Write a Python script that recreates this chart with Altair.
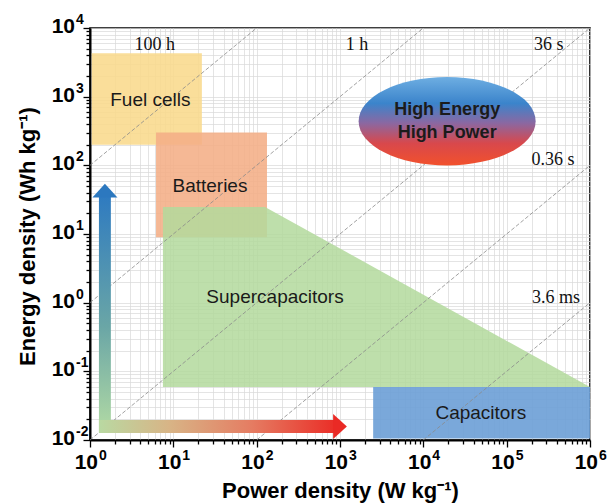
import altair as alt
import pandas as pd

# ---------------- data ----------------
# rectangular regions (power density W/kg, energy density Wh/kg)
rect_names = ["Fuel cells", "Batteries", "Capacitors"]
rect_p0 = [1.05, 6.2, 2500]
rect_p1 = [22, 133, 1e6]
rect_e0 = [200, 9.0, 0.0105]
rect_e1 = [4300, 300, 0.059]
rect_colors = ["#f9d98c", "#f4ae86", "#6c9fd6"]

# supercapacitor polygon (top edge), bottom at sc_bottom
sc_p = [7.5, 126, 1e6]
sc_e = [24.8, 24.8, 0.059]
sc_bottom = 0.059

# region labels
lab_names = ["Fuel cells", "Batteries", "Supercapacitors", "Capacitors"]
lab_p = [5.3, 27.5, 166, 49000]
lab_e = [890, 50, 1.2, 0.025]

# constant-time lines: start and end points
t_names = ["100 h", "1 h", "36 s", "0.36 s", "3.6 ms"]
t_p0 = [1, 1, 1, 100, 1e4]
t_e0 = [100, 1, 0.01, 0.01, 0.01]
t_p1 = [100, 1e4, 1e6, 1e6, 1e6]
t_e1 = [1e4, 1e4, 1e4, 100, 1]
# time label positions
t_lab_p = [6.0, 1600, 3.2e5, 3.6e5, 3.9e5]
t_lab_e = [5600, 5600, 5600, 120, 1.17]

# ellipse
ell_p = [19300]
ell_e = [440]
ell_lines = ["High Energy", "High Power"]

# arrows
v_shaft = {"p0": 1.28, "p1": 1.78, "e0": 0.0126, "e1": 35}
v_head = {"p": 1.51, "e": 43}
h_shaft = {"p0": 1.28, "p1": 850, "e0": 0.0126, "e1": 0.0195}
h_head = {"p": 1000, "e": 0.0157}

# axis ticks / labels (mantissa "10" + exponent)
x_decades = [1, 10, 100, 1000, 1e4, 1e5, 1e6]
x_exps = ["0", "1", "2", "3", "4", "5", "6"]
y_decades = [0.01, 0.1, 1, 10, 100, 1000, 1e4]
y_exps = ["-2", "-1", "0", "1", "2", "3", "4"]

# ---------------- build ----------------
def minor_ticks(decades):
    vals = []
    for d in decades[:-1]:
        vals += [d * k for k in range(1, 10)]
    vals.append(decades[-1])
    return vals

x_vals = minor_ticks(x_decades)
y_vals = minor_ticks(y_decades)

is_major = "abs(log(datum.value)/LN10 - round(log(datum.value)/LN10)) < 1e-6"

FONT = "Liberation Sans"
SERIF = "Liberation Serif"

xscale = alt.Scale(type="log", domain=[1, 1e6], nice=False)
yscale = alt.Scale(type="log", domain=[0.01, 1e4], nice=False)

common_axis = dict(
    grid=True, gridColor="#d8d8d8", gridWidth=0.7,
    domainColor="black", domainWidth=2, tickColor="black", tickWidth=1.3,
    tickSize={"condition": {"test": is_major, "value": 7}, "value": 4},
    labels=False,
    titleFont=FONT, titleFontWeight="bold", titleFontSize=22, titleColor="black",
    titleAlign="center", titleBaseline="middle",
)
xaxis = alt.Axis(values=x_vals, title="Power density   (W kg⁻¹)",
                 titleX=250, titleY=50, **common_axis)
yaxis = alt.Axis(values=y_vals, title="Energy density   (Wh kg⁻¹)",
                 titleX=-63, titleY=208, titleAngle=270, **common_axis)

rect_df = pd.DataFrame({"name": rect_names, "p0": rect_p0, "p1": rect_p1,
                        "e0": rect_e0, "e1": rect_e1, "color": rect_colors})
sc_df = pd.DataFrame({"p": sc_p, "e": sc_e, "b": [sc_bottom] * len(sc_p)})
lab_df = pd.DataFrame({"name": lab_names, "p": lab_p, "e": lab_e})

line_rows = []
for n, a, b, c, d in zip(t_names, t_p0, t_e0, t_p1, t_e1):
    line_rows.append({"name": n, "p": a, "e": b, "o": 0})
    line_rows.append({"name": n, "p": c, "e": d, "o": 1})
line_df = pd.DataFrame(line_rows)
tlab_df = pd.DataFrame({"name": t_names, "p": t_lab_p, "e": t_lab_e})

X = lambda f: alt.X(f, scale=xscale)
Y = lambda f: alt.Y(f, scale=yscale)

# axes/grid carrier
axes = alt.Chart(lab_df).mark_point(opacity=0).encode(
    x=alt.X("p:Q", scale=xscale, axis=xaxis), y=alt.Y("e:Q", scale=yscale, axis=yaxis))

lines = alt.Chart(line_df).mark_line(color="#8a8a8a", strokeWidth=0.8,
                                     strokeDash=[4, 2], clip=True).encode(
    x=X("p:Q"), y=Y("e:Q"), detail="name:N", order="o:Q")

fuel_bat = alt.Chart(rect_df[rect_df.name != "Capacitors"]).mark_rect(opacity=0.88).encode(
    x=X("p0:Q"), x2="p1:Q", y=Y("e0:Q"), y2="e1:Q",
    color=alt.Color("color:N", scale=None))

sc = alt.Chart(sc_df).mark_area(color="#b3d99c", opacity=0.85, interpolate="linear").encode(
    x=X("p:Q"), y=Y("e:Q"), y2="b:Q")

cap = alt.Chart(rect_df[rect_df.name == "Capacitors"]).mark_rect(opacity=0.9).encode(
    x=X("p0:Q"), x2="p1:Q", y=Y("e0:Q"), y2="e1:Q",
    color=alt.Color("color:N", scale=None))

region_text = alt.Chart(lab_df).mark_text(font=FONT, fontSize=19, color="#1a1a1a").encode(
    x=X("p:Q"), y=Y("e:Q"), text="name:N")

time_text = alt.Chart(tlab_df).mark_text(font=SERIF, fontSize=18, color="#111").encode(
    x=X("p:Q"), y=Y("e:Q"), text="name:N")

ell_grad = alt.Gradient(
    gradient="linear", x1=0, x2=0, y1=0, y2=1,
    stops=[alt.GradientStop(color="#6eaee2", offset=0),
           alt.GradientStop(color="#3b84cb", offset=0.3),
           alt.GradientStop(color="#8a68a2", offset=0.52),
           alt.GradientStop(color="#d8484c", offset=0.75),
           alt.GradientStop(color="#f2512c", offset=1)])
ell_df = pd.DataFrame({"p": ell_p, "e": ell_e})
ellipse = alt.Chart(ell_df).mark_point(
    shape="M-1,0A1,0.5,0,1,1,1,0A1,0.5,0,1,1,-1,0Z", size=177 * 177,
    filled=True, fill=ell_grad, opacity=1, strokeWidth=0).encode(
    x=X("p:Q"), y=Y("e:Q"))
ell_text = alt.Chart(ell_df).mark_text(
    font=FONT, fontSize=18, fontWeight="bold", color="#1b1b1b",
    lineHeight=23, baseline="middle", dy=-11).encode(
    x=X("p:Q"), y=Y("e:Q"), text=alt.value(ell_lines))

v_grad = alt.Gradient(
    gradient="linear", x1=0, x2=0, y1=1, y2=0,
    stops=[alt.GradientStop(color="#b3dba4", offset=0),
           alt.GradientStop(color="#6aa6a6", offset=0.45),
           alt.GradientStop(color="#2f7bc0", offset=1)])
h_grad = alt.Gradient(
    gradient="linear", x1=0, x2=1, y1=0, y2=0,
    stops=[alt.GradientStop(color="#b9d9a2", offset=0),
           alt.GradientStop(color="#d8b486", offset=0.3),
           alt.GradientStop(color="#e57c62", offset=0.65),
           alt.GradientStop(color="#ea2f28", offset=1)])

v_bar = alt.Chart(pd.DataFrame([v_shaft])).mark_rect(fill=v_grad, opacity=1).encode(
    x=X("p0:Q"), x2="p1:Q", y=Y("e0:Q"), y2="e1:Q")
h_bar = alt.Chart(pd.DataFrame([h_shaft])).mark_rect(fill=h_grad, opacity=1).encode(
    x=X("p0:Q"), x2="p1:Q", y=Y("e0:Q"), y2="e1:Q")
v_tip = alt.Chart(pd.DataFrame([v_head])).mark_point(
    shape="M-1,0.55L0,-0.55L1,0.55Z", size=625, filled=True,
    color="#2c78bf", opacity=1).encode(x=X("p:Q"), y=Y("e:Q"))
h_tip = alt.Chart(pd.DataFrame([h_head])).mark_point(
    shape="M-0.55,-1L0.55,0L-0.55,1Z", size=625, filled=True,
    color="#ea2a25", opacity=1).encode(x=X("p:Q"), y=Y("e:Q"))

# tick labels: "10" mantissa + superscript exponent
xl_df = pd.DataFrame({"p": x_decades, "e": [y_decades[0]] * len(x_decades), "ex": x_exps})
yl_df = pd.DataFrame({"p": [x_decades[0]] * len(y_decades), "e": y_decades, "ex": y_exps})
lab_style = dict(font=FONT, fontWeight="bold", color="black")
x_man = alt.Chart(xl_df).mark_text(fontSize=21, align="right", baseline="middle",
                                   dx=8, dy=23, **lab_style).encode(
    x=X("p:Q"), y=Y("e:Q"), text=alt.value("10"))
x_exp = alt.Chart(xl_df).mark_text(fontSize=14, align="left", baseline="middle",
                                   dx=9, dy=16, **lab_style).encode(
    x=X("p:Q"), y=Y("e:Q"), text="ex:N")
y_man = alt.Chart(yl_df).mark_text(fontSize=21, align="right", baseline="middle",
                                   dx=-15, dy=-1, **lab_style).encode(
    x=X("p:Q"), y=Y("e:Q"), text=alt.value("10"))
y_exp = alt.Chart(yl_df).mark_text(fontSize=14, align="left", baseline="middle",
                                   dx=-14, dy=-8, **lab_style).encode(
    x=X("p:Q"), y=Y("e:Q"), text="ex:N")

chart = alt.layer(
    axes, fuel_bat, sc, cap, lines, region_text, time_text,
    ellipse, ell_text, v_bar, h_bar, v_tip, h_tip,
    x_man, x_exp, y_man, y_exp
).properties(
    width=500, height=412,
    padding={"left": 90, "top": 28, "right": 19, "bottom": 63},
    autosize="none", background="white",
).configure_view(stroke="black", strokeWidth=1.6)

chart.save("out.html", embed_options={"renderer": "svg", "actions": False})
